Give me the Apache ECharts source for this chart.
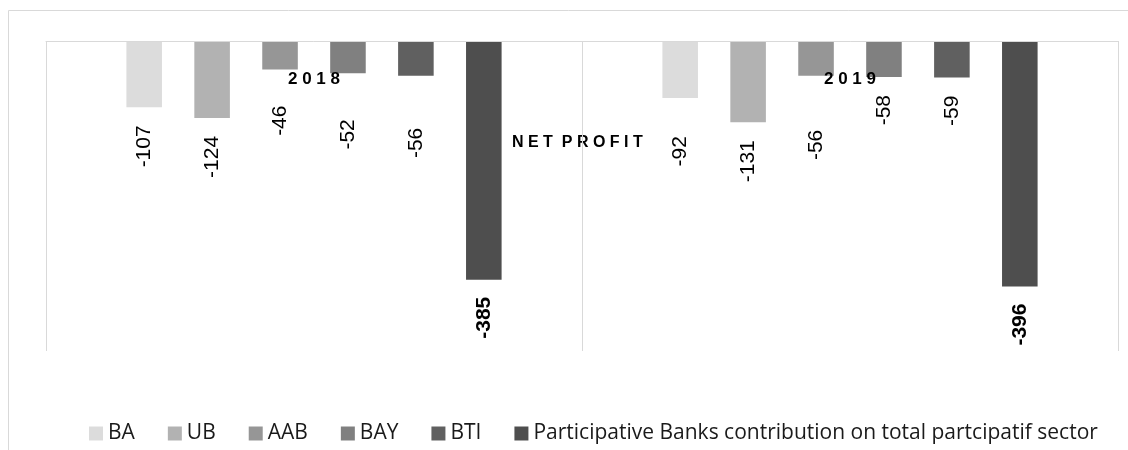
<!DOCTYPE html>
<html>
<head>
<meta charset="utf-8">
<script src="https://cdn.jsdelivr.net/npm/echarts@6/dist/echarts.min.js"></script>
<style>
  html, body { margin: 0; padding: 0; background: #fff; }
  #chart { width: 1128px; height: 450px; }
</style>
</head>
<body>
<div id="chart"></div>
<script>
// categories (years)
const years = ['2018', '2019'];

// net profit per bank
const ba = [-107, -92];
const ub = [-124, -131];
const aab = [-46, -56];
const bay = [-52, -58];
const bti = [-56, -59];
const participative = [-385, -396];

const seriesNames = ['BA', 'UB', 'AAB', 'BAY', 'BTI', 'Participative Banks contribution on total partcipatif sector'];
const seriesData = [ba, ub, aab, bay, bti, participative];

// styling only
const colors = ['#dcdcdc', '#b2b2b2', '#969696', '#808080', '#606060', '#4e4e4e'];
// gap between bar end and its label, per series / per year
const labelGap = [[18, 38], [18, 18], [36, 54], [46, 18], [52, 18], [17, 17]];

const font = "'Liberation Sans', Arial, sans-serif";

// spread letters out, like the letter-spaced Excel labels
function spaced(txt, wordGap) {
  return txt.split(' ').map(w => w.split('').join(' ')).join(wordGap);
}

const chart = echarts.init(document.getElementById('chart'));

const option = {
  animation: false,
  title: {
    text: spaced('NET PROFIT', '  '),
    left: 507,
    top: 130,
    textStyle: { fontFamily: font, fontSize: 16, fontWeight: 'bold', color: '#000' }
  },
  graphic: [{
    type: 'rect',
    shape: { x: 8.5, y: 10.5, width: 1200, height: 600 },
    style: { fill: 'none', stroke: '#d9d9d9', lineWidth: 1 },
    silent: true
  }],
  legend: {
    left: 89,
    top: 423,
    padding: 0,
    itemWidth: 14,
    itemHeight: 14,
    itemGap: 33,
    icon: 'rect',
    textStyle: { fontFamily: "'Open Sans', sans-serif", fontSize: 21, color: '#1a1a1a' },
    data: seriesNames
  },
  grid: { left: 46, right: 10, top: 41, bottom: 99 },
  xAxis: {
    type: 'category',
    position: 'top',
    z: 10,
    data: years,
    axisLine: { lineStyle: { color: '#d9d9d9' } },
    axisTick: { show: false },
    axisLabel: {
      inside: true,
      margin: 30,
      interval: 0,
      fontFamily: font,
      fontSize: 17,
      fontWeight: 'bold',
      color: '#000',
      formatter: v => spaced(v, ' ')
    },
    splitLine: { show: true, interval: 0, lineStyle: { color: '#d9d9d9' } }
  },
  yAxis: {
    type: 'value',
    min: -500,
    max: 0,
    show: false,
    splitLine: { show: false }
  },
  series: seriesData.map((vals, i) => ({
    name: seriesNames[i],
    type: 'bar',
    barCategoryGap: '30%',
    barGap: '91%',
    itemStyle: { color: colors[i] },
    data: vals.map((v, j) => ({
      value: v,
      label: { distance: labelGap[i][j] }
    })),
    label: {
      show: true,
      position: 'bottom',
      rotate: 90,
      align: 'right',
      verticalAlign: 'middle',
      fontFamily: font,
      fontSize: 21,
      fontWeight: i === 5 ? 'bold' : 'normal',
      color: '#000'
    }
  }))
};

chart.setOption(option);
</script>
</body>
</html>
